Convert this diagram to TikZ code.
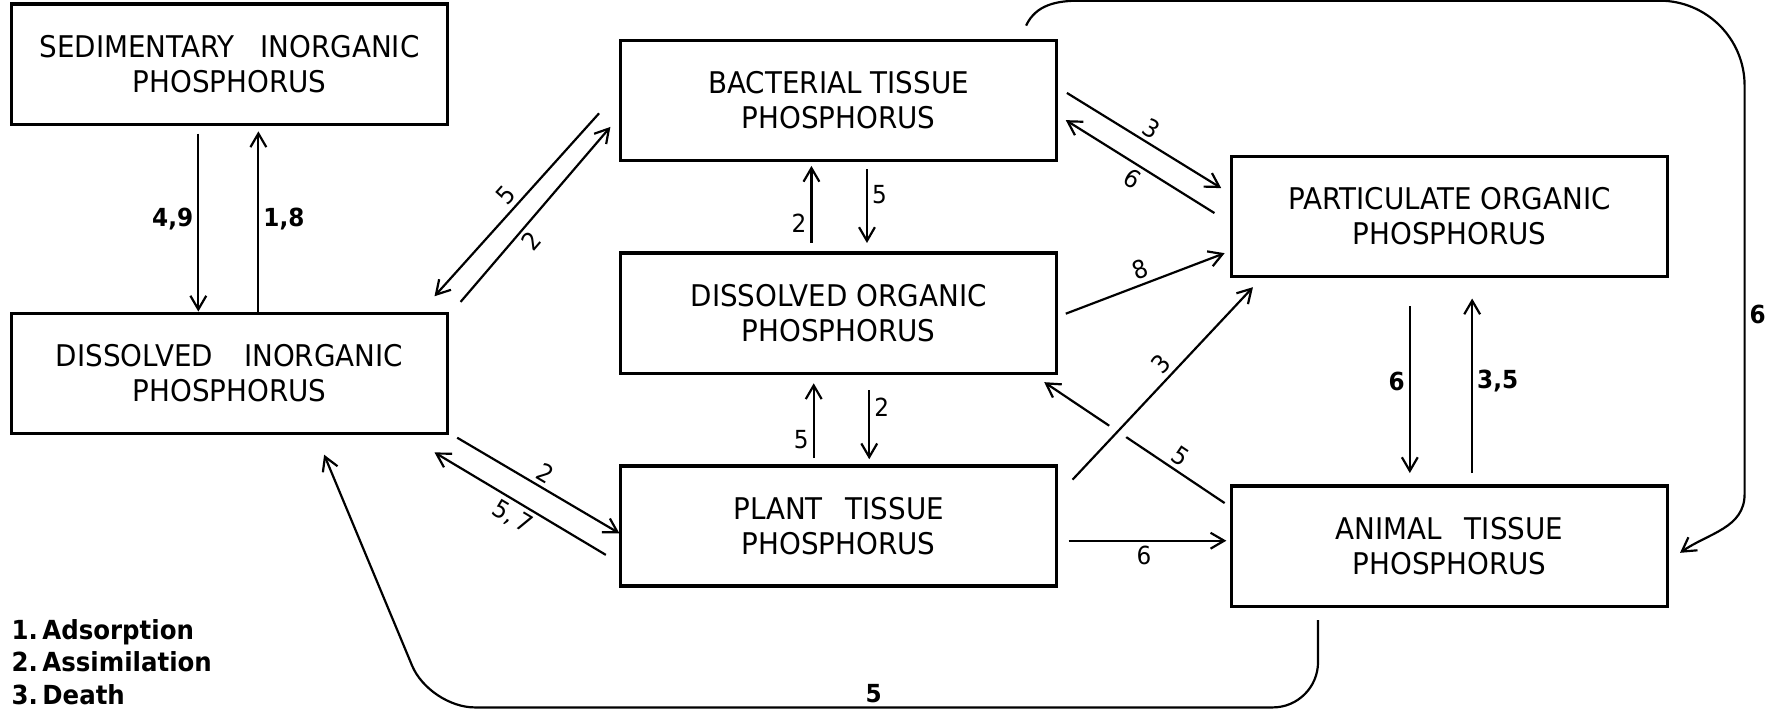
\documentclass[tikz,border=0pt]{standalone}
\usepackage{fontspec}
\setmainfont{DejaVu Sans}[FakeStretch=0.93]
\usetikzlibrary{arrows.meta, positioning}

\begin{document}
\begin{tikzpicture}[
    node distance=1.58cm and 3.05cm,
    font=\fontsize{15}{17.6}\selectfont,
    base/.style={draw=black, line width=1.6pt, align=center, inner sep=3pt},
    pool/.style={base, rectangle, minimum width=7.7cm, minimum height=2.12cm},
    arr/.style={-{Straight Barb[length=2.4mm, width=2.8mm]}, line width=1.1pt},
    lbl/.style={font=\fontsize{12.5}{14}\selectfont, inner sep=2pt},
    blbl/.style={lbl, font=\bfseries\fontsize{12.5}{14}\selectfont}
]
\useasboundingbox (0,0) rectangle (31.36,-12.56);

% 1. Inorganic pools
\node[pool] (sed) at (4.05,-1.13) {SEDIMENTARY\hspace{0.45cm}INORGANIC\\PHOSPHORUS};
\node[pool, below=3.28cm of sed] (dip) {DISSOLVED\hspace{0.55cm}INORGANIC\\PHOSPHORUS};

% 2. Tissue & dissolved organic pools
\node[pool] (bact) at (14.8,-1.77) {BACTERIAL TISSUE\\PHOSPHORUS};
\node[pool, below=of bact] (dop) {DISSOLVED ORGANIC\\PHOSPHORUS};
\node[pool, below=of dop] (plant) {PLANT\hspace{0.4cm}TISSUE\\PHOSPHORUS};

% 3. Particulate & animal pools
\node[pool] (pop) at (25.58,-3.82) {PARTICULATE ORGANIC\\PHOSPHORUS};
\node[pool, below=3.64cm of pop] (animal) {ANIMAL\hspace{0.4cm}TISSUE\\PHOSPHORUS};

% Key
\node[font=\bfseries\fontsize{13.2}{16.4}\selectfont, align=left, anchor=north west, inner sep=0pt] (legend) at (0.2,-10.92) {1.\,Adsorption\\2.\,Assimilation\\3.\,Death};

% Connections / Arrows
\draw[arr, shorten <=0.14cm] ([xshift=-0.55cm]sed.south) -- node[blbl, left] {4,9} ([xshift=-0.55cm]dip.north);
\draw[arr, shorten >=0.1cm] ([xshift=0.51cm]dip.north) -- node[blbl, right] {1,8} ([xshift=0.51cm]sed.south);

\draw[arr] ([shift={(-0.35,-0.23)}]bact.west) -- node[lbl, sloped, above] {5} ([shift={(-0.26,0.27)}]dip.north east);
\draw[arr] ([shift={(0.2,0.17)}]dip.north east) -- node[lbl, sloped, below, pos=0.4] {2} ([shift={(-0.15,-0.47)}]bact.west);

\draw[arr] ([shift={(0.14,-0.05)}]dip.south east) -- node[lbl, sloped, above] {2} ([shift={(0.01,-0.13)}]plant.west);
\draw[arr] ([shift={(-0.23,-0.51)}]plant.west) -- node[lbl, sloped, below] {5,\,7} ([shift={(-0.26,-0.31)}]dip.south east);

\draw[arr, shorten <=0.13cm, shorten >=0.15cm] ([xshift=0.5cm]bact.south) -- node[lbl, right, pos=0.36] {5} ([xshift=0.5cm]dop.north);
\draw[arr, shorten <=0.15cm, shorten >=0.07cm] ([xshift=-0.48cm]dop.north) -- node[lbl, left, pos=0.31] {2} ([xshift=-0.48cm]bact.south);
\draw[arr, shorten <=0.27cm, shorten >=0.09cm] ([xshift=0.54cm]dop.south) -- node[lbl, right, pos=0.36] {2} ([xshift=0.54cm]plant.north);
\draw[arr, shorten <=0.11cm, shorten >=0.15cm] ([xshift=-0.44cm]plant.north) -- node[lbl, left, pos=0.28] {5} ([xshift=-0.44cm]dop.south);

\draw[arr] ([shift={(0.15,0.13)}]bact.east) -- node[lbl, sloped, above] {3} ([shift={(-0.15,0.5)}]pop.west);
\draw[arr] ([shift={(-0.27,0.06)}]pop.west) -- node[lbl, sloped, below] {6} ([shift={(0.13,-0.35)}]bact.east);
\draw[arr] ([shift={(0.13,-0.01)}]dop.east) -- node[lbl, sloped, above] {8} ([shift={(-0.09,0.44)}]pop.south west);
\draw[arr] ([shift={(-0.09,-0.33)}]animal.north west) -- node[lbl, sloped, above, pos=0.29] {5} ([shift={(-0.25,-0.13)}]dop.south east);
\draw[arr, preaction={draw=white, -, line width=10pt, shorten <=0.7cm, shorten >=3.0cm}] ([shift={(0.25,-0.27)}]plant.north east) -- node[lbl, sloped, above, pos=0.55] {3} ([shift={(0.41,-0.16)}]pop.south west);
\draw[arr, shorten <=0.18cm, shorten >=0.06cm] ([yshift=-0.26cm]plant.east) -- node[lbl, below] {6} ([yshift=-0.26cm]plant.east -| animal.west);

\draw[arr, shorten <=0.5cm, shorten >=0.2cm] ([xshift=-0.7cm]pop.south) -- node[blbl, left] {6} ([xshift=-0.7cm]animal.north);
\draw[arr, shorten <=0.2cm, shorten >=0.36cm] ([xshift=0.4cm]animal.north) -- node[blbl, right] {3,5} ([xshift=0.4cm]pop.south);

% Outer loops
\coordinate (loop_top) at ([shift={(0.38,0.67)}]bact.north east);
\coordinate (loop_turn) at ([shift={(1.33,0.92)}]animal.east);
\draw[arr] ([shift={(-0.57,0.23)}]bact.north east) to[out=65,in=180] (loop_top) -- ([xshift=-1.5cm]loop_top -| loop_turn) arc[start angle=90, end angle=0, radius=1.5cm] -- node[blbl, right, pos=0.56] {6} (loop_turn) to[out=-90,in=35] ([shift={(0.19,-0.12)}]animal.east);
\draw[arr, rounded corners=0.8cm] ([shift={(-2.32,-0.22)}]animal.south) -- ([shift={(-2.32,-1.76)}]animal.south) -- node[blbl, above] {5} ([shift={(3.53,-4.81)}]dip.south) -- ([shift={(1.67,-0.35)}]dip.south);

\end{tikzpicture}
\end{document}
